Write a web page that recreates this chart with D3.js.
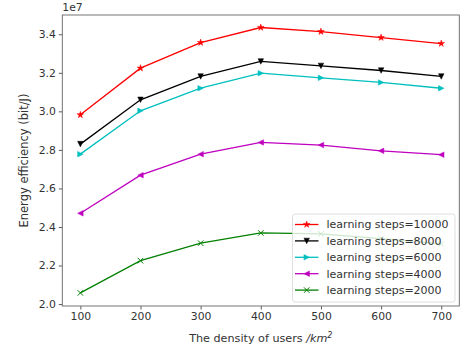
<!DOCTYPE html>
<html>
<head>
<meta charset="utf-8">
<script src="https://cdn.jsdelivr.net/npm/d3@7"></script>
<style>
  body { margin: 0; background: #fff; }
  svg { font-family: "DejaVu Sans", sans-serif; }
</style>
</head>
<body>
<div id="chart"></div>
<script>
// densities of users (x axis)
const densities = [100, 200, 300, 400, 500, 600, 700];

// energy efficiency, in units of 1e7 bit/J
const steps10000 = [2.982, 3.224, 3.357, 3.435, 3.414, 3.383, 3.352];
const steps8000  = [2.830, 3.060, 3.181, 3.259, 3.236, 3.212, 3.181];
const steps6000  = [2.778, 3.003, 3.120, 3.198, 3.174, 3.150, 3.120];
const steps4000  = [2.471, 2.669, 2.778, 2.839, 2.825, 2.795, 2.775];
const steps2000  = [2.058, 2.225, 2.316, 2.369, 2.364, 2.340, 2.312];

const seriesNames = ['learning steps=10000', 'learning steps=8000', 'learning steps=6000',
                     'learning steps=4000', 'learning steps=2000'];
const xTicks = [100, 200, 300, 400, 500, 600, 700];
const yTicks = [2.0, 2.2, 2.4, 2.6, 2.8, 3.0, 3.2, 3.4];

const series = [
  {name: seriesNames[0], values: steps10000, color: '#ff0000', marker: 'star'},
  {name: seriesNames[1], values: steps8000,  color: '#000000', marker: 'tri_down'},
  {name: seriesNames[2], values: steps6000,  color: '#00bfbf', marker: 'tri_right'},
  {name: seriesNames[3], values: steps4000,  color: '#bf00bf', marker: 'tri_left'},
  {name: seriesNames[4], values: steps2000,  color: '#008000', marker: 'x'}
];

const width = 461, height = 351;
const plotL = 62.3, plotR = 459.3, plotT = 15, plotB = 306;

const svg = d3.select('#chart').append('svg')
  .attr('width', width)
  .attr('height', height);

const x = d3.scaleLinear().domain([70, 730]).range([plotL, plotR]);
const y = d3.scaleLinear().domain([1.99, 3.5]).range([plotB, plotT]);

// axes
const xAxis = svg.append('g')
  .attr('transform', `translate(0,${plotB})`)
  .call(d3.axisBottom(x).tickValues(xTicks).tickSize(3.5).tickPadding(3).tickFormat(d3.format('d')));
const yAxis = svg.append('g')
  .attr('transform', `translate(${plotL},0)`)
  .call(d3.axisLeft(y).tickValues(yTicks).tickSize(3.5).tickPadding(3).tickFormat(d3.format('.1f')));

[xAxis, yAxis].forEach(a => {
  a.select('.domain').remove();
  a.selectAll('line').attr('stroke', '#333').attr('stroke-width', 0.8);
  a.selectAll('text').attr('fill', '#333').attr('font-size', 10.8).attr('font-family', '"DejaVu Sans", sans-serif');
});

// frame
svg.append('rect')
  .attr('x', plotL).attr('y', plotT)
  .attr('width', plotR - plotL).attr('height', plotB - plotT)
  .attr('fill', 'none').attr('stroke', '#666').attr('stroke-width', 0.9);

// offset text
svg.append('text')
  .attr('x', plotL).attr('y', 11)
  .attr('font-size', 10.8).attr('fill', '#333')
  .text('1e7');

// axis labels
svg.append('text')
  .attr('transform', `translate(28,${(plotT + plotB) / 2}) rotate(-90)`)
  .attr('text-anchor', 'middle')
  .attr('font-size', 11.5).attr('fill', '#333')
  .text('Energy efficiency (bit/J)');

const xl = svg.append('text')
  .attr('x', (plotL + plotR) / 2).attr('y', 342)
  .attr('text-anchor', 'middle')
  .attr('font-size', 11.2).attr('fill', '#333');
xl.append('tspan').text('The density of users ');
xl.append('tspan').attr('font-style', 'italic').text('/km');
xl.append('tspan').attr('font-style', 'italic').attr('font-size', 8).attr('dy', -4.5).text('2');

// marker shapes
function markerPath(type, s) {
  if (type === 'star') {
    return d3.symbol().type(d3.symbolStar).size(s * s * 0.45)();
  }
  const h = s / 2;
  if (type === 'x') return `M${-h},${-h}L${h},${h}M${-h},${h}L${h},${-h}`;
  if (type === 'tri_down') return `M${-h},${-h}L${h},${-h}L0,${h}Z`;
  if (type === 'tri_right') return `M${-h},${-h}L${h},0L${-h},${h}Z`;
  if (type === 'tri_left') return `M${h},${-h}L${-h},0L${h},${h}Z`;
}

const line = d3.line()
  .x((d, i) => x(densities[i]))
  .y(d => y(d));

series.forEach(s => {
  const g = svg.append('g');
  g.append('path')
    .attr('d', line(s.values))
    .attr('fill', 'none')
    .attr('stroke', s.color)
    .attr('stroke-width', 1.3);
  g.selectAll('path.m')
    .data(s.values)
    .enter()
    .append('path')
    .attr('class', 'm')
    .attr('transform', (d, i) => `translate(${x(densities[i])},${y(d)})`)
    .attr('d', markerPath(s.marker, 5.5))
    .attr('fill', s.marker === 'x' ? 'none' : s.color)
    .attr('stroke', s.color)
    .attr('stroke-width', s.marker === 'x' ? 1 : 0.5);
});

// legend
const lgX = 292.5, lgY = 214, lgW = 162.5, lgH = 88;
svg.append('rect')
  .attr('x', lgX).attr('y', lgY)
  .attr('width', lgW).attr('height', lgH)
  .attr('rx', 2.5)
  .attr('fill', 'rgba(255,255,255,0.8)')
  .attr('stroke', '#d6d6d6').attr('stroke-width', 0.8);

series.forEach((s, i) => {
  const cy = 224.5 + i * 16.4;
  const g = svg.append('g');
  g.append('line')
    .attr('x1', lgX + 2.5).attr('x2', lgX + 26)
    .attr('y1', cy).attr('y2', cy)
    .attr('stroke', s.color).attr('stroke-width', 1.3);
  g.append('path')
    .attr('transform', `translate(${lgX + 14.2},${cy})`)
    .attr('d', markerPath(s.marker, 5.5))
    .attr('fill', s.marker === 'x' ? 'none' : s.color)
    .attr('stroke', s.color)
    .attr('stroke-width', s.marker === 'x' ? 1 : 0.5);
  g.append('text')
    .attr('x', lgX + 34).attr('y', cy)
    .attr('dy', '0.35em')
    .attr('font-size', 11).attr('fill', '#333')
    .text(s.name);
});
</script>
</body>
</html>
